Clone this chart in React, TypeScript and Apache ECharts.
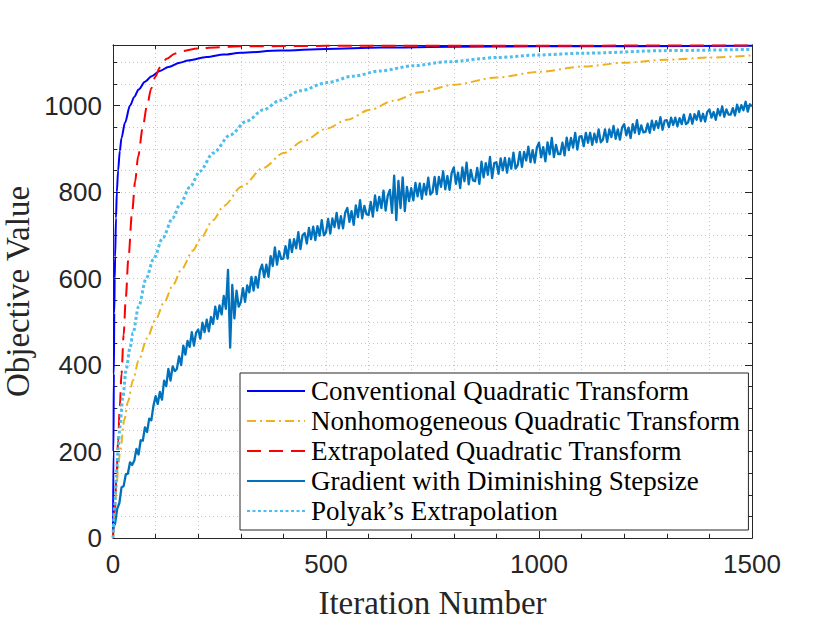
import React, { useEffect, useRef } from "react";
import * as echarts from "echarts";

const seriesNames = [
  "Conventional Quadratic Transform",
  "Nonhomogeneous Quadratic Transform",
  "Extrapolated Quadratic Transform",
  "Gradient with Diminishing Stepsize",
  "Polyak\u2019s Extrapolation",
];

const conventionalIter = [0, 1, 2, 3, 4, 5, 7, 9, 12, 16, 20, 28, 40, 50, 60, 75, 91, 110, 130, 157, 176, 220, 260, 300, 392, 500, 627, 800, 1000, 1500];
const conventionalValue = [0, 200, 380, 520, 600, 650, 740, 800, 850, 895, 925, 960, 1000, 1020, 1037, 1055, 1068, 1080, 1089, 1099, 1104, 1112, 1118, 1122, 1127, 1131, 1134, 1136, 1137, 1138];

const nonhomIter = [0, 4, 8, 12, 16, 27, 35, 47, 60, 80, 100, 120, 141, 160, 188, 204, 235, 260, 302, 353, 400, 447, 502, 549, 603, 658, 721, 799, 901, 1000, 1103, 1200, 1300, 1400, 1500];
const nonhomValue = [0, 60, 115, 160, 195, 275, 315, 365, 410, 462, 505, 545, 585, 620, 665, 690, 735, 768, 812, 856, 890, 918, 947, 967, 990, 1011, 1031, 1048, 1065, 1078, 1090, 1099, 1106, 1111, 1116];

const extrapIter = [0, 4, 8, 12, 16, 20, 25, 30, 36, 45, 52, 59, 70, 79, 90, 99, 110, 126, 145, 161, 200, 250, 300, 500, 1500];
const extrapValue = [0, 60, 140, 225, 305, 380, 470, 555, 645, 755, 825, 882, 950, 996, 1040, 1066, 1088, 1108, 1120, 1126, 1132, 1135, 1137, 1138, 1139];

const polyakIter = [0, 4, 8, 12, 16, 23, 31, 40, 47, 60, 78, 95, 117, 140, 157, 181, 204, 235, 275, 314, 353, 392, 439, 502, 564, 627, 705, 783, 901, 1000, 1103, 1300, 1500];
const polyakValue = [0, 75, 145, 205, 255, 325, 390, 440, 474, 535, 600, 645, 694, 740, 771, 812, 848, 890, 932, 964, 990, 1012, 1034, 1053, 1068, 1080, 1092, 1101, 1111, 1117, 1121, 1127, 1130];

const GRAD_STEP = 5;
const gradientValue = [
  21, 34, 68, 81, 117, 120, 147, 149, 175, 169,
  179, 206, 193, 226, 225, 256, 245, 276, 272, 306,
  328, 310, 338, 320, 364, 351, 391, 364, 397, 386,
  391, 420, 400, 445, 424, 456, 442, 476, 445, 475,
  482, 461, 498, 476, 505, 478, 511, 495, 535, 507,
  538, 517, 560, 530, 620, 440, 585, 508, 572, 535,
  545, 578, 546, 584, 568, 604, 572, 604, 579, 619,
  632, 603, 632, 604, 652, 629, 672, 632, 663, 645,
  646, 675, 646, 690, 661, 691, 670, 707, 668, 700,
  705, 681, 717, 691, 720, 689, 721, 699, 735, 700,
  707, 738, 704, 739, 719, 752, 716, 744, 716, 752,
  763, 731, 756, 724, 769, 742, 781, 739, 768, 749,
  747, 777, 743, 792, 757, 789, 763, 803, 757, 792,
  805, 752, 838, 735, 826, 763, 834, 756, 812, 779,
  809, 781, 821, 790, 820, 784, 819, 794, 833, 794,
  800, 835, 795, 835, 812, 848, 806, 837, 805, 844,
  857, 819, 845, 809, 857, 825, 868, 818, 851, 827,
  825, 856, 819, 870, 834, 867, 840, 881, 832, 867,
  869, 842, 878, 850, 879, 845, 878, 854, 891, 854,
  862, 893, 858, 893, 873, 905, 869, 897, 868, 903,
  914, 880, 904, 871, 915, 887, 925, 881, 909, 888,
  888, 914, 885, 926, 897, 925, 903, 937, 898, 928,
  929, 906, 937, 914, 937, 909, 935, 915, 945, 915,
  921, 945, 916, 945, 927, 953, 923, 945, 921, 949,
  957, 931, 949, 925, 957, 937, 966, 934, 954, 938,
  939, 958, 937, 965, 944, 964, 948, 973, 944, 965,
  966, 950, 972, 955, 972, 952, 971, 957, 979, 957,
  961, 980, 958, 980, 967, 987, 964, 981, 963, 985,
  991, 972, 985, 967, 992, 977, 998, 974, 991, 979,
  979, 994, 977, 1002, 985, 1001, 989, 1009, 986, 1003,
  998,
];

const X_MIN = 0;
const X_MAX = 1500;
const X_MAJOR = 500;
const Y_MIN = 0;
const Y_MAX = 1140;
const Y_MAJOR = 200;
const Y_MINOR = 50;

const AXIS_COLOR = "#262626";
const GRID_COLOR = "#c4c4c4";

function pairs(xs: number[], ys: number[]) {
  return xs.map((x, i) => [x, ys[i]]);
}

export default function App() {
  const ref = useRef<HTMLDivElement>(null);

  useEffect(() => {
    if (!ref.current) return;
    const chart = echarts.init(ref.current, null, { renderer: "svg" });

    const dotted = { type: [1, 3] as any, color: GRID_COLOR, width: 1 };
    const axisLine = { show: true, onZero: false, lineStyle: { color: AXIS_COLOR, width: 1 } };

    const baseX = {
      type: "value" as const,
      min: X_MIN,
      max: X_MAX,
      interval: X_MAJOR,
      axisLine,
      axisTick: { show: true, inside: true, length: 7, lineStyle: { color: AXIS_COLOR } },
      minorTick: { show: true, splitNumber: 5, length: 4, lineStyle: { color: AXIS_COLOR } },
    };

    const yLabelFormatter = (v: number) => (v % Y_MAJOR === 0 && v <= 1000 ? String(v) : "");

    const lineSeries = (name: string, data: number[][], color: string, width: number, type: any, smooth: boolean) => ({
      name,
      type: "line" as const,
      data,
      xAxisIndex: 0,
      yAxisIndex: 0,
      symbol: "none",
      showSymbol: false,
      smooth: smooth ? 0.3 : false,
      smoothMonotone: smooth ? "x" : undefined,
      silent: true,
      lineStyle: { color, width, type, cap: "butt", join: "round" },
      itemStyle: { color },
      emphasis: { disabled: true },
    });

    chart.setOption({
      animation: false,
      backgroundColor: "#ffffff",
      grid: { left: 113, top: 45, width: 639, height: 493, containLabel: false, outerBoundsMode: "none" },
      legend: {
        orient: "vertical",
        left: 240,
        top: 373,
        padding: [3, 8, 4, 6],
        itemWidth: 58,
        itemHeight: 14,
        itemGap: 0,
        backgroundColor: "#ffffff",
        borderColor: AXIS_COLOR,
        borderWidth: 1,
        selectedMode: false,
        itemStyle: { opacity: 0 },
        textStyle: {
          fontFamily: "Liberation Serif",
          fontSize: 27,
          lineHeight: 30,
          color: "#000000",
          padding: [0, 0, 0, 1],
        },
        data: seriesNames,
      },
      xAxis: [
        {
          ...baseX,
          position: "bottom",
          axisLabel: {
            margin: 13,
            fontSize: 26,
            fontFamily: "Liberation Sans",
            color: AXIS_COLOR,
            formatter: (v: number) => String(v),
          },
          splitLine: { show: true, lineStyle: dotted },
          minorSplitLine: { show: true, lineStyle: dotted },
          name: "Iteration Number",
          nameLocation: "middle",
          nameGap: 48,
          nameTextStyle: { fontFamily: "Liberation Serif", fontSize: 33, color: AXIS_COLOR },
        },
        {
          ...baseX,
          position: "top",
          axisLabel: { show: false },
          splitLine: { show: false },
        },
      ],
      yAxis: [
        {
          type: "value",
          position: "left",
          min: Y_MIN,
          max: Y_MAX,
          interval: Y_MINOR,
          axisLine,
          axisTick: { show: true, inside: true, length: 4, lineStyle: { color: AXIS_COLOR } },
          axisLabel: { show: false },
          splitLine: { show: true, lineStyle: dotted },
          name: "Objective Value",
          nameLocation: "middle",
          nameGap: 79,
          nameRotate: 90,
          nameTextStyle: { fontFamily: "Liberation Serif", fontSize: 33, color: AXIS_COLOR },
        },
        {
          type: "value",
          position: "left",
          min: Y_MIN,
          max: Y_MAX,
          interval: Y_MAJOR,
          axisLine,
          axisTick: { show: true, inside: true, length: 7, lineStyle: { color: AXIS_COLOR } },
          axisLabel: {
            margin: 11,
            fontSize: 26,
            fontFamily: "Liberation Sans",
            color: AXIS_COLOR,
            formatter: yLabelFormatter,
            showMaxLabel: false,
          },
          splitLine: { show: false },
        },
        {
          type: "value",
          position: "right",
          min: Y_MIN,
          max: Y_MAX,
          interval: Y_MINOR,
          axisLine,
          axisTick: { show: true, inside: true, length: 4, lineStyle: { color: AXIS_COLOR } },
          axisLabel: { show: false },
          splitLine: { show: false },
        },
        {
          type: "value",
          position: "right",
          min: Y_MIN,
          max: Y_MAX,
          interval: Y_MAJOR,
          axisLine,
          axisTick: { show: true, inside: true, length: 7, lineStyle: { color: AXIS_COLOR } },
          axisLabel: { show: false },
          splitLine: { show: false },
        },
      ],
      series: [
        lineSeries(seriesNames[0], pairs(conventionalIter, conventionalValue), "#0000ff", 2, "solid", true),
        lineSeries(seriesNames[1], pairs(nonhomIter, nonhomValue), "#edb120", 2, [9, 4, 2, 4], true),
        lineSeries(seriesNames[2], pairs(extrapIter, extrapValue), "#ff0000", 2, [14, 8], true),
        lineSeries(seriesNames[3], gradientValue.map((v, i) => [i * GRAD_STEP, v]), "#0072bd", 2.3, "solid", false),
        lineSeries(seriesNames[4], pairs(polyakIter, polyakValue), "#4dbeee", 3, [3, 2.5], true),
      ],
    });

    return () => chart.dispose();
  }, []);

  return (
    <div
      ref={ref}
      style={{ position: "absolute", left: 0, top: 0, width: 830, height: 623, background: "#fff" }}
    />
  );
}
